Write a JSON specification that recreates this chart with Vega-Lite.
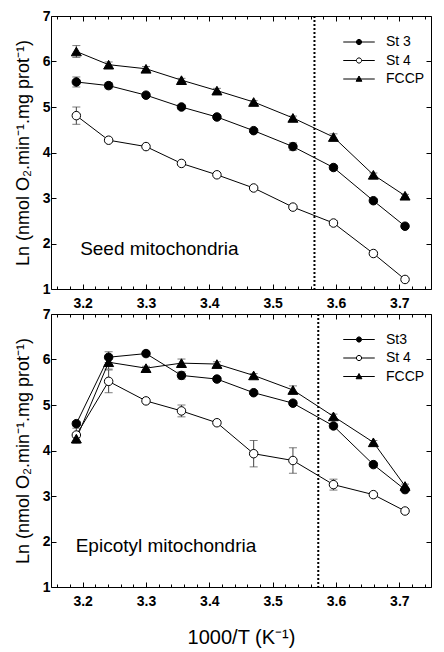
{
  "$schema": "https://vega.github.io/schema/vega-lite/v6.json",
  "padding": {"left": 13, "top": 8, "right": 4, "bottom": 4},
  "background": "white",
  "config": {
    "view": {"stroke": "black", "strokeWidth": 1},
    "font": "Liberation Sans",
    "axis": {"grid": false, "domain": false, "tickColor": "black", "tickWidth": 1, "labelColor": "black", "titleColor": "black", "labelFont": "Liberation Sans", "titleFont": "Liberation Sans"}
  },
  "datasets": {
    "seed": [
      {"series": "St 3", "x": 3.190, "y": 5.55, "err": 0.11},
      {"series": "St 3", "x": 3.241, "y": 5.47, "err": 0.07},
      {"series": "St 3", "x": 3.300, "y": 5.26, "err": 0.04},
      {"series": "St 3", "x": 3.356, "y": 5.00, "err": 0.04},
      {"series": "St 3", "x": 3.412, "y": 4.78, "err": 0.04},
      {"series": "St 3", "x": 3.470, "y": 4.48, "err": 0.04},
      {"series": "St 3", "x": 3.532, "y": 4.13, "err": 0.08},
      {"series": "St 3", "x": 3.596, "y": 3.67, "err": 0.05},
      {"series": "St 3", "x": 3.659, "y": 2.94, "err": 0.04},
      {"series": "St 3", "x": 3.709, "y": 2.38, "err": 0.04},
      {"series": "St 4", "x": 3.190, "y": 4.81, "err": 0.19},
      {"series": "St 4", "x": 3.241, "y": 4.27, "err": 0.03},
      {"series": "St 4", "x": 3.300, "y": 4.13, "err": 0.03},
      {"series": "St 4", "x": 3.356, "y": 3.76, "err": 0.03},
      {"series": "St 4", "x": 3.412, "y": 3.51, "err": 0.03},
      {"series": "St 4", "x": 3.470, "y": 3.22, "err": 0.03},
      {"series": "St 4", "x": 3.532, "y": 2.80, "err": 0.03},
      {"series": "St 4", "x": 3.596, "y": 2.45, "err": 0.05},
      {"series": "St 4", "x": 3.659, "y": 1.78, "err": 0.03},
      {"series": "St 4", "x": 3.709, "y": 1.21, "err": 0.03},
      {"series": "FCCP", "x": 3.190, "y": 6.22, "err": 0.13},
      {"series": "FCCP", "x": 3.241, "y": 5.93, "err": 0.06},
      {"series": "FCCP", "x": 3.300, "y": 5.84, "err": 0.05},
      {"series": "FCCP", "x": 3.356, "y": 5.59, "err": 0.04},
      {"series": "FCCP", "x": 3.412, "y": 5.36, "err": 0.05},
      {"series": "FCCP", "x": 3.470, "y": 5.11, "err": 0.03},
      {"series": "FCCP", "x": 3.532, "y": 4.76, "err": 0.04},
      {"series": "FCCP", "x": 3.596, "y": 4.34, "err": 0.07},
      {"series": "FCCP", "x": 3.659, "y": 3.51, "err": 0.04},
      {"series": "FCCP", "x": 3.709, "y": 3.05, "err": 0.03}
    ],
    "epi": [
      {"series": "St3", "x": 3.190, "y": 4.59, "err": 0.05},
      {"series": "St3", "x": 3.241, "y": 6.05, "err": 0.12},
      {"series": "St3", "x": 3.300, "y": 6.13, "err": 0.05},
      {"series": "St3", "x": 3.356, "y": 5.65, "err": 0.08},
      {"series": "St3", "x": 3.412, "y": 5.57, "err": 0.04},
      {"series": "St3", "x": 3.470, "y": 5.27, "err": 0.04},
      {"series": "St3", "x": 3.532, "y": 5.04, "err": 0.05},
      {"series": "St3", "x": 3.596, "y": 4.54, "err": 0.05},
      {"series": "St3", "x": 3.659, "y": 3.69, "err": 0.04},
      {"series": "St3", "x": 3.709, "y": 3.14, "err": 0.04},
      {"series": "St 4", "x": 3.190, "y": 4.34, "err": 0.15},
      {"series": "St 4", "x": 3.241, "y": 5.52, "err": 0.25},
      {"series": "St 4", "x": 3.300, "y": 5.09, "err": 0.04},
      {"series": "St 4", "x": 3.356, "y": 4.87, "err": 0.13},
      {"series": "St 4", "x": 3.412, "y": 4.61, "err": 0.04},
      {"series": "St 4", "x": 3.470, "y": 3.93, "err": 0.29},
      {"series": "St 4", "x": 3.532, "y": 3.78, "err": 0.28},
      {"series": "St 4", "x": 3.596, "y": 3.25, "err": 0.12},
      {"series": "St 4", "x": 3.659, "y": 3.03, "err": 0.04},
      {"series": "St 4", "x": 3.709, "y": 2.67, "err": 0.04},
      {"series": "FCCP", "x": 3.190, "y": 4.26, "err": 0.10},
      {"series": "FCCP", "x": 3.241, "y": 5.94, "err": 0.15},
      {"series": "FCCP", "x": 3.300, "y": 5.81, "err": 0.04},
      {"series": "FCCP", "x": 3.356, "y": 5.92, "err": 0.09},
      {"series": "FCCP", "x": 3.412, "y": 5.90, "err": 0.05},
      {"series": "FCCP", "x": 3.470, "y": 5.65, "err": 0.04},
      {"series": "FCCP", "x": 3.532, "y": 5.33, "err": 0.09},
      {"series": "FCCP", "x": 3.596, "y": 4.75, "err": 0.05},
      {"series": "FCCP", "x": 3.659, "y": 4.18, "err": 0.04},
      {"series": "FCCP", "x": 3.709, "y": 3.22, "err": 0.04}
    ]
  },
  "bounds": "flush",
  "spacing": 25,
  "resolve": {"scale": {"shape": "independent", "fill": "independent", "stroke": "independent"}, "legend": {"shape": "independent", "fill": "independent", "stroke": "independent"}},
  "vconcat": [
    {
      "width": 380, "height": 273,
      "data": {"name": "seed"},
      "layer": [
        {"mark": {"type": "errorbar", "color": "#444", "ticks": {"size": 8}},
         "encoding": {
           "x": {"field": "x", "type": "quantitative", "scale": {"domain": [3.15, 3.75], "nice": false, "zero": false},
                 "axis": {"orient": "bottom", "title": null, "values": [3.16,3.18,3.2,3.22,3.24,3.26,3.28,3.3,3.32,3.34,3.36,3.38,3.4,3.42,3.44,3.46,3.48,3.5,3.52,3.54,3.56,3.58,3.6,3.62,3.64,3.66,3.68,3.7,3.72,3.74],
                          "labelExpr": "abs(datum.value*10 - round(datum.value*10)) < 0.001 ? format(datum.value, '.1f') : ''",
                          "tickSize": {"condition": {"test": "abs(datum.value*10 - round(datum.value*10)) < 0.001", "value": -5}, "value": -3},
                          "labelPadding": 12, "labelFontSize": 14, "labelFontWeight": "bold", "labelOverlap": false, "labelFlush": false}},
           "y": {"field": "y", "type": "quantitative", "scale": {"domain": [1, 7], "nice": false, "zero": false},
                 "axis": {"orient": "left", "values": [1,2,3,4,5,6,7], "tickSize": -5, "labelPadding": 6, "labelFontSize": 14, "labelFontWeight": "bold",
                          "title": "Ln (nmol O₂.min⁻¹.mg prot⁻¹)", "titleFontSize": 18, "titleFontWeight": "normal", "titlePadding": 10}},
           "yError": {"field": "err"}}},
        {"mark": {"type": "line", "color": "black", "strokeWidth": 1},
         "encoding": {
           "x": {"field": "x", "type": "quantitative",
                 "axis": {"orient": "top", "title": null, "labels": false, "values": [3.16,3.18,3.2,3.22,3.24,3.26,3.28,3.3,3.32,3.34,3.36,3.38,3.4,3.42,3.44,3.46,3.48,3.5,3.52,3.54,3.56,3.58,3.6,3.62,3.64,3.66,3.68,3.7,3.72,3.74],
                          "tickSize": {"condition": {"test": "abs(datum.value*10 - round(datum.value*10)) < 0.001", "value": -5}, "value": -3}}},
           "y": {"field": "y", "type": "quantitative", "axis": {"orient": "right", "title": null, "labels": false, "values": [1,2,3,4,5,6,7], "tickSize": -5}},
           "detail": {"field": "series"}}},
        {"mark": {"type": "point", "stroke": "black", "strokeWidth": 1, "opacity": 1},
         "encoding": {
           "x": {"field": "x", "type": "quantitative", "axis": null},
           "y": {"field": "y", "type": "quantitative", "axis": null},
           "shape": {"condition": {"test": "datum.series === 'FCCP'", "value": "triangle-up"}, "value": "circle"},
           "size": {"condition": {"test": "datum.series === 'FCCP'", "value": 100}, "value": 72},
           "fill": {"condition": {"test": "datum.series === 'St 4'", "value": "white"}, "value": "black"}}},
        {"mark": {"type": "point", "strokeWidth": 1, "opacity": 0},
         "encoding": {
           "x": {"field": "x", "type": "quantitative", "axis": null},
           "y": {"field": "y", "type": "quantitative", "axis": null},
           "shape": {"field": "series", "type": "nominal",
                     "scale": {"domain": ["St 3", "St 4", "FCCP"], "range": ["M-3.15,0H-0.52M0.52,0H3.15M-0.52,0A0.52,0.52 0 1,0 0.52,0A0.52,0.52 0 1,0 -0.52,0", "M-3.15,0H-0.52M0.52,0H3.15M-0.52,0A0.52,0.52 0 1,0 0.52,0A0.52,0.52 0 1,0 -0.52,0", "M-3.15,0H3.15M0,-0.6L0.58,0.45L-0.58,0.45Z"]},
                     "legend": {"orient": "none", "legendX": 301, "legendY": 19, "title": null, "padding": 0, "symbolSize": 100, "symbolOpacity": 1, "symbolStrokeWidth": 1, "labelFontSize": 14, "labelFont": "Liberation Sans", "labelColor": "black", "labelOffset": 20, "rowPadding": 4.5}},
           "fill": {"field": "series", "type": "nominal",
                    "scale": {"domain": ["St 3", "St 4", "FCCP"], "range": ["black", "white", "black"]},
                    "legend": {"orient": "none", "legendX": 301, "legendY": 19, "title": null, "padding": 0, "symbolSize": 100, "symbolOpacity": 1, "symbolStrokeWidth": 1, "labelFontSize": 14, "labelFont": "Liberation Sans", "labelColor": "black", "labelOffset": 20, "rowPadding": 4.5}},
           "stroke": {"field": "series", "type": "nominal",
                    "scale": {"domain": ["St 3", "St 4", "FCCP"], "range": ["black", "black", "black"]},
                    "legend": {"orient": "none", "legendX": 301, "legendY": 19, "title": null, "padding": 0, "symbolSize": 100, "symbolOpacity": 1, "symbolStrokeWidth": 1, "labelFontSize": 14, "labelFont": "Liberation Sans", "labelColor": "black", "labelOffset": 20, "rowPadding": 4.5}}}},
        {"data": {"values": [{}]},
         "mark": {"type": "rule", "color": "black", "strokeWidth": 2, "strokeDash": [2, 2]},
         "encoding": {"x": {"datum": 3.566, "type": "quantitative", "axis": null}}},
        {"data": {"values": [{}]},
         "mark": {"type": "text", "align": "left", "baseline": "middle", "fontSize": 19, "font": "Liberation Sans", "color": "black"},
         "encoding": {
           "x": {"datum": 3.196, "type": "quantitative", "axis": null},
           "y": {"datum": 1.89, "type": "quantitative", "axis": null},
           "text": {"value": "Seed mitochondria"}}}
      ],
      "resolve": {"axis": {"x": "independent", "y": "independent"}}
    },
    {
      "width": 380, "height": 273,
      "data": {"name": "epi"},
      "layer": [
        {"mark": {"type": "errorbar", "color": "#444", "ticks": {"size": 8}},
         "encoding": {
           "x": {"field": "x", "type": "quantitative", "scale": {"domain": [3.15, 3.75], "nice": false, "zero": false},
                 "axis": {"orient": "bottom", "title": "1000/T (K⁻¹)", "titleFontSize": 20, "titleFontWeight": "normal", "titlePadding": 17,
                          "values": [3.16,3.18,3.2,3.22,3.24,3.26,3.28,3.3,3.32,3.34,3.36,3.38,3.4,3.42,3.44,3.46,3.48,3.5,3.52,3.54,3.56,3.58,3.6,3.62,3.64,3.66,3.68,3.7,3.72,3.74],
                          "labelExpr": "abs(datum.value*10 - round(datum.value*10)) < 0.001 ? format(datum.value, '.1f') : ''",
                          "tickSize": {"condition": {"test": "abs(datum.value*10 - round(datum.value*10)) < 0.001", "value": -5}, "value": -3},
                          "labelPadding": 12, "labelFontSize": 14, "labelFontWeight": "bold", "labelOverlap": false, "labelFlush": false}},
           "y": {"field": "y", "type": "quantitative", "scale": {"domain": [1, 7], "nice": false, "zero": false},
                 "axis": {"orient": "left", "values": [1,2,3,4,5,6,7], "tickSize": -5, "labelPadding": 6, "labelFontSize": 14, "labelFontWeight": "bold",
                          "title": "Ln (nmol O₂.min⁻¹.mg prot⁻¹)", "titleFontSize": 18, "titleFontWeight": "normal", "titlePadding": 10}},
           "yError": {"field": "err"}}},
        {"mark": {"type": "line", "color": "black", "strokeWidth": 1},
         "encoding": {
           "x": {"field": "x", "type": "quantitative",
                 "axis": {"orient": "top", "title": null, "labels": false, "values": [3.16,3.18,3.2,3.22,3.24,3.26,3.28,3.3,3.32,3.34,3.36,3.38,3.4,3.42,3.44,3.46,3.48,3.5,3.52,3.54,3.56,3.58,3.6,3.62,3.64,3.66,3.68,3.7,3.72,3.74],
                          "tickSize": {"condition": {"test": "abs(datum.value*10 - round(datum.value*10)) < 0.001", "value": -5}, "value": -3}}},
           "y": {"field": "y", "type": "quantitative", "axis": {"orient": "right", "title": null, "labels": false, "values": [1,2,3,4,5,6,7], "tickSize": -5}},
           "detail": {"field": "series"}}},
        {"mark": {"type": "point", "stroke": "black", "strokeWidth": 1, "opacity": 1},
         "encoding": {
           "x": {"field": "x", "type": "quantitative", "axis": null},
           "y": {"field": "y", "type": "quantitative", "axis": null},
           "shape": {"condition": {"test": "datum.series === 'FCCP'", "value": "triangle-up"}, "value": "circle"},
           "size": {"condition": {"test": "datum.series === 'FCCP'", "value": 100}, "value": 72},
           "fill": {"condition": {"test": "datum.series === 'St 4'", "value": "white"}, "value": "black"}}},
        {"mark": {"type": "point", "strokeWidth": 1, "opacity": 0},
         "encoding": {
           "x": {"field": "x", "type": "quantitative", "axis": null},
           "y": {"field": "y", "type": "quantitative", "axis": null},
           "shape": {"field": "series", "type": "nominal",
                     "scale": {"domain": ["St3", "St 4", "FCCP"], "range": ["M-3.15,0H-0.52M0.52,0H3.15M-0.52,0A0.52,0.52 0 1,0 0.52,0A0.52,0.52 0 1,0 -0.52,0", "M-3.15,0H-0.52M0.52,0H3.15M-0.52,0A0.52,0.52 0 1,0 0.52,0A0.52,0.52 0 1,0 -0.52,0", "M-3.15,0H3.15M0,-0.6L0.58,0.45L-0.58,0.45Z"]},
                     "legend": {"orient": "none", "legendX": 301, "legendY": 18.5, "title": null, "padding": 0, "symbolSize": 100, "symbolOpacity": 1, "symbolStrokeWidth": 1, "labelFontSize": 14, "labelFont": "Liberation Sans", "labelColor": "black", "labelOffset": 20, "rowPadding": 4.5}},
           "fill": {"field": "series", "type": "nominal",
                    "scale": {"domain": ["St3", "St 4", "FCCP"], "range": ["black", "white", "black"]},
                    "legend": {"orient": "none", "legendX": 301, "legendY": 18.5, "title": null, "padding": 0, "symbolSize": 100, "symbolOpacity": 1, "symbolStrokeWidth": 1, "labelFontSize": 14, "labelFont": "Liberation Sans", "labelColor": "black", "labelOffset": 20, "rowPadding": 4.5}},
           "stroke": {"field": "series", "type": "nominal",
                    "scale": {"domain": ["St3", "St 4", "FCCP"], "range": ["black", "black", "black"]},
                    "legend": {"orient": "none", "legendX": 301, "legendY": 18.5, "title": null, "padding": 0, "symbolSize": 100, "symbolOpacity": 1, "symbolStrokeWidth": 1, "labelFontSize": 14, "labelFont": "Liberation Sans", "labelColor": "black", "labelOffset": 20, "rowPadding": 4.5}}}},
        {"data": {"values": [{}]},
         "mark": {"type": "rule", "color": "black", "strokeWidth": 2, "strokeDash": [2, 2]},
         "encoding": {"x": {"datum": 3.572, "type": "quantitative", "axis": null}}},
        {"data": {"values": [{}]},
         "mark": {"type": "text", "align": "left", "baseline": "middle", "fontSize": 19, "font": "Liberation Sans", "color": "black"},
         "encoding": {
           "x": {"datum": 3.189, "type": "quantitative", "axis": null},
           "y": {"datum": 1.90, "type": "quantitative", "axis": null},
           "text": {"value": "Epicotyl mitochondria"}}}
      ],
      "resolve": {"axis": {"x": "independent", "y": "independent"}}
    }
  ]
}
